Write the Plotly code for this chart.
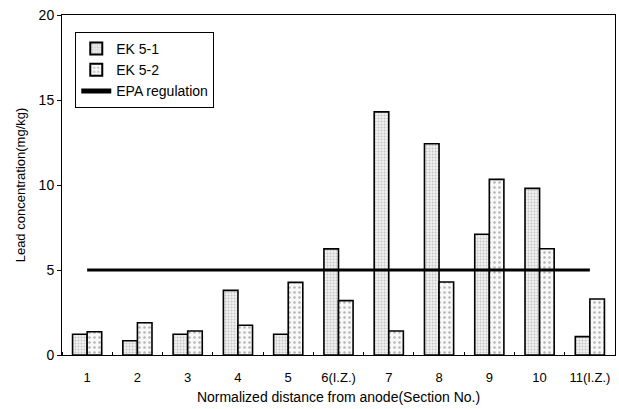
import plotly.graph_objects as go

# Section labels along the anode-to-cathode distance
sections = ["1", "2", "3", "4", "5", "6(I.Z.)", "7", "8", "9", "10", "11(I.Z.)"]
section_no = list(range(1, 12))

# Lead concentration (mg/kg) per section
ek5_1 = [1.22, 0.84, 1.22, 3.8, 1.22, 6.24, 14.3, 12.43, 7.1, 9.8, 1.08]
ek5_2 = [1.37, 1.9, 1.41, 1.75, 4.27, 3.2, 1.41, 4.29, 10.33, 6.25, 3.29]
epa_limit = [5.0] * len(section_no)

font_family = "Liberation Sans, Arial, sans-serif"

fig = go.Figure()

fig.add_trace(go.Bar(
    x=section_no, y=ek5_1, name="EK 5-1",
    marker=dict(
        color="#e8e8e8",
        line=dict(color="black", width=1.6),
        pattern=dict(shape=".", fgcolor="#9a9a9a", bgcolor="#f0f0f0", size=3, solidity=0.35),
    ),
))
fig.add_trace(go.Bar(
    x=section_no, y=ek5_2, name="EK 5-2",
    marker=dict(
        color="white",
        line=dict(color="black", width=1.6),
        pattern=dict(shape=".", fgcolor="#707070", bgcolor="#f8f8f8", size=5, solidity=0.2),
    ),
))
fig.add_trace(go.Scatter(
    x=section_no, y=epa_limit, name="EPA regulation",
    mode="lines", line=dict(color="black", width=3),
))

fig.update_layout(
    width=619, height=409,
    margin=dict(l=62, r=4, t=15, b=54),
    paper_bgcolor="white", plot_bgcolor="white",
    barmode="group", bargap=0.42, bargroupgap=0,
    font=dict(family=font_family, size=13, color="black"),
    showlegend=True,
    legend=dict(
        x=0.024, y=0.95, xanchor="left", yanchor="top",
        bgcolor="white", bordercolor="black", borderwidth=1,
        font=dict(size=14), traceorder="normal",
        itemsizing="constant", tracegroupgap=2,
    ),
)

fig.update_xaxes(
    range=[0.5, 11.5],
    tickmode="array", tickvals=section_no, ticktext=sections,
    ticks="", ticklabelstandoff=10,
    showline=True, linecolor="black", linewidth=1, mirror=True,
    showgrid=False, zeroline=False,
    minor=dict(tickmode="linear", tick0=0.5, dtick=1, ticks="inside", ticklen=3, tickcolor="black"),
    title=dict(text="Normalized distance from anode(Section No.)", font=dict(size=14), standoff=8),
    tickfont=dict(size=13),
)
fig.update_yaxes(
    range=[0, 20], dtick=5,
    ticks="outside", ticklen=4, tickcolor="black",
    showline=True, linecolor="black", linewidth=1, mirror=True,
    showgrid=False, zeroline=False,
    title=dict(text="Lead concentration(mg/kg)", font=dict(size=13), standoff=10),
    tickfont=dict(size=14),
)

fig.write_html("out.html")
